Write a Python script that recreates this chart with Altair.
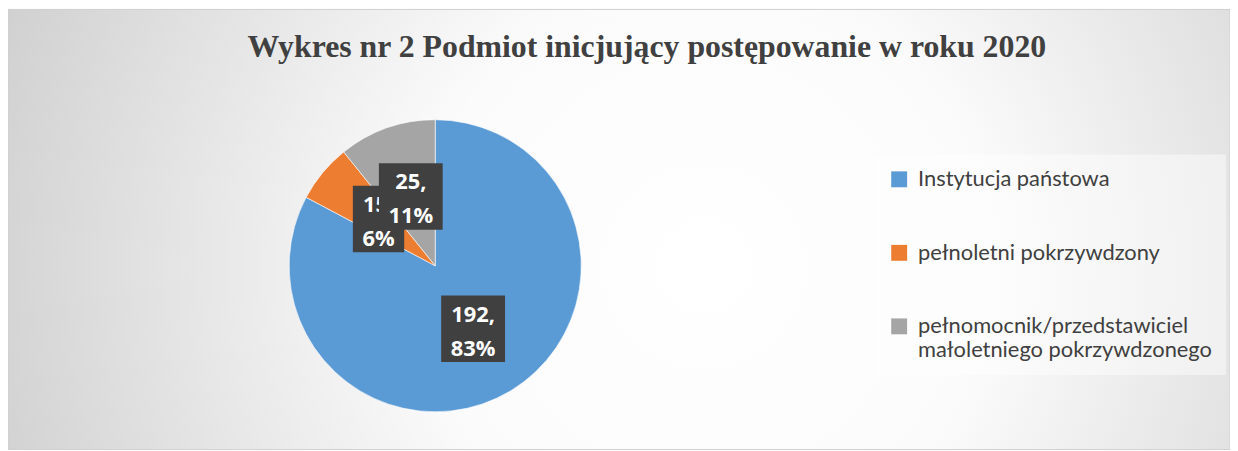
import altair as alt
import pandas as pd

# ---- data ----
categories = [
    "Instytucja państowa",
    "pełnoletni pokrzywdzony",
    "pełnomocnik/przedstawiciel małoletniego pokrzywdzonego",
]
values = [192, 15, 25]
colors = ["#5B9BD5", "#ED7D31", "#A5A5A5"]
title_text = "Wykres nr 2 Podmiot inicjujący postępowanie w roku 2020"

W, H = 1230, 443
CX, CY, R = 430, 258, 147
LR = 74  # label distance from centre

df = pd.DataFrame({"category": categories, "value": values, "idx": list(range(len(values)))})

bg = alt.Chart(alt.Data(values=[{}])).mark_rect(
    fill={
        "gradient": "radial",
        "x1": 0.57, "y1": 0.53, "r1": 0,
        "x2": 0.57, "y2": 0.53, "r2": 0.78,
        "stops": [
            {"offset": 0, "color": "#ffffff"},
            {"offset": 0.3, "color": "#fbfbfb"},
            {"offset": 1, "color": "#bdbdbd"},
        ],
    },
    stroke="#d0d0d0",
    strokeWidth=1,
).encode(x=alt.value(0), x2=alt.value(W), y=alt.value(0), y2=alt.value(H))

title = alt.Chart(alt.Data(values=[{"t": title_text}])).mark_text(
    font="Liberation Serif", fontWeight="bold", fontSize=32, color="#404040",
    align="center", baseline="alphabetic",
).encode(x=alt.value(643), y=alt.value(48), text="t:N")

base = alt.Chart(df)

arc = base.mark_arc(outerRadius=R, stroke="white", strokeWidth=0.6).encode(
    theta=alt.Theta("value:Q", stack=True),
    order=alt.Order("idx:Q", sort="ascending"),
    color=alt.Color(
        "category:N",
        sort=categories,
        scale=alt.Scale(domain=categories, range=colors),
        legend=alt.Legend(
            title=None,
            orient="none",
            legendX=872,
            legendY=146,
            direction="vertical",
            symbolType="square",
            symbolSize=256,
            symbolStrokeWidth=0,
            labelFont="Lato",
            labelFontSize=22,
            labelColor="#404040",
            labelLimit=500,
            labelOffset=8,
            rowPadding=52,
            padding=14,
            fillColor="rgba(255,255,255,0.45)",
            labelExpr="length(datum.label) > 30 ? [slice(datum.label, 0, indexof(datum.label, ' ')), slice(datum.label, indexof(datum.label, ' ') + 1)] : datum.label",
        ),
    ),
    x=alt.value(CX),
    y=alt.value(CY),
)

lab = base.transform_window(
    cum="sum(value)", sort=[alt.SortField("idx", order="ascending")], frame=[None, 0]
).transform_joinaggregate(
    total="sum(value)"
).transform_calculate(
    mid="(datum.cum - datum.value / 2) / datum.total * 2 * PI",
    pct="round(datum.value / datum.total * 100)",
).transform_calculate(
    lx=f"{CX} + {LR} * sin(datum.mid)",
    ly=f"{CY} - {LR} * cos(datum.mid)",
    bw="20 + max(12.6 * length('' + datum.value) + 6.5, 12.6 * length('' + datum.pct) + 19)",
    lbl="[datum.value + ',', datum.pct + '%']",
).transform_calculate(
    bx1="datum.lx - datum.bw / 2",
    bx2="datum.lx + datum.bw / 2",
    by1="datum.ly - 33.5",
    by2="datum.ly + 33.5",
)

boxes = lab.mark_rect(color="#404040").encode(
    x=alt.X("bx1:Q", scale=None, axis=None),
    x2="bx2:Q",
    y=alt.Y("by1:Q", scale=None, axis=None),
    y2="by2:Q",
)
texts = lab.mark_text(
    font="Open Sans", fontWeight="bold", fontSize=22, color="white",
    lineHeight=34, align="center", baseline="middle", dy=-14,
).encode(
    x=alt.X("lx:Q", scale=None, axis=None),
    y=alt.Y("ly:Q", scale=None, axis=None),
    text="lbl:N",
)

last = len(values) - 1
boxes_top = boxes.transform_filter(f"datum.idx == {last}")
texts_top = texts.transform_filter(f"datum.idx == {last}")

chart = alt.layer(
    bg, title, arc,
    boxes.transform_filter(f"datum.idx != {last}"),
    texts.transform_filter(f"datum.idx != {last}"),
    boxes_top, texts_top,
).properties(
    width=W, height=H, autosize=alt.AutoSizeParams(type="none"), padding=0
).configure_view(stroke=None)

chart.save("out.html", embed_options={"renderer": "svg", "actions": False})
